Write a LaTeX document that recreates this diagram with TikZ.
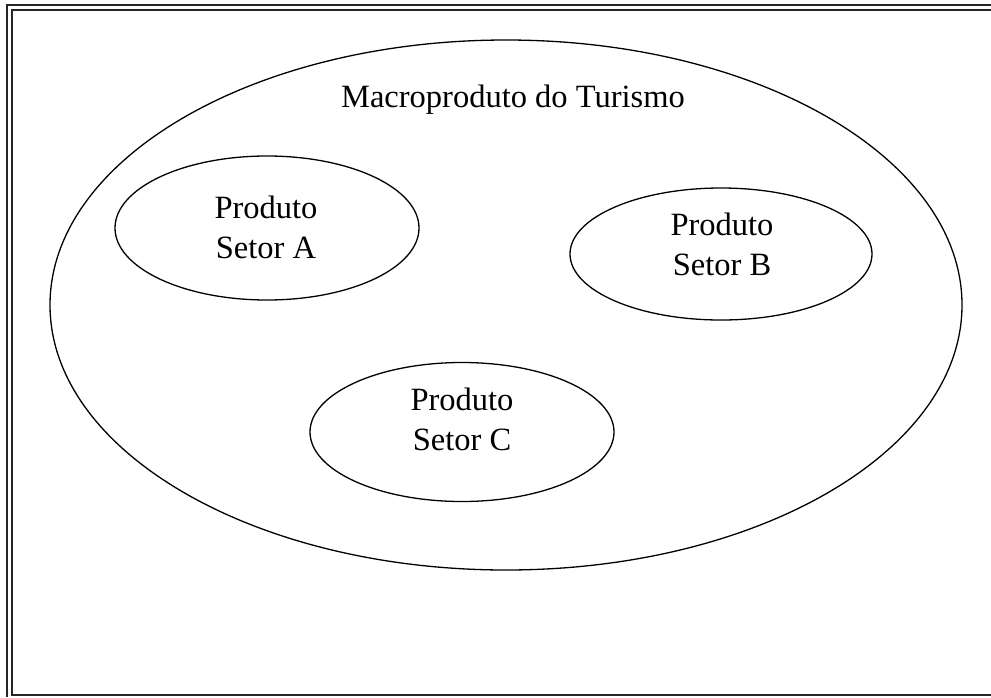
\documentclass[tikz,border=0pt]{standalone}
\usepackage{fontspec}
\setmainfont{Liberation Serif}
\usetikzlibrary{shapes.geometric}
\begin{document}
\begin{tikzpicture}[x=1pt,y=-1pt,
  frameline/.style={line width=2pt,draw=black!85},
  oval/.style={ellipse,draw,line width=1.3pt,inner sep=0pt},
  lbl/.style={font=\fontsize{32.5}{40}\selectfont,align=center,anchor=base,inner sep=0pt}]
\useasboundingbox[fill=white] (0,0) rectangle (991,697);
% double frame
\draw[frameline] (7,697) -- (7,5) -- (991,5);
\draw[frameline] (991,694.5) -- (11.5,694.5) -- (11.5,10) -- (991,10);
% ovals
\node[oval,minimum width=912pt,minimum height=530pt] (macro) at (506,305) {};
\node[oval,minimum width=304pt,minimum height=144pt] (a) at (267,228) {};
\node[oval,minimum width=302pt,minimum height=132pt] (b) at (721,254) {};
\node[oval,minimum width=304pt,minimum height=139pt] (c) at (462,432) {};
% labels
\node[lbl] (tmacro) at (513,107) {Macroproduto do Turismo};
\node[lbl] (ta) at (266,258) {Produto\\Setor A};
\node[lbl] (tb) at (722,275) {Produto\\Setor B};
\node[lbl] (tc) at (462,450) {Produto\\Setor C};
\end{tikzpicture}
\end{document}
